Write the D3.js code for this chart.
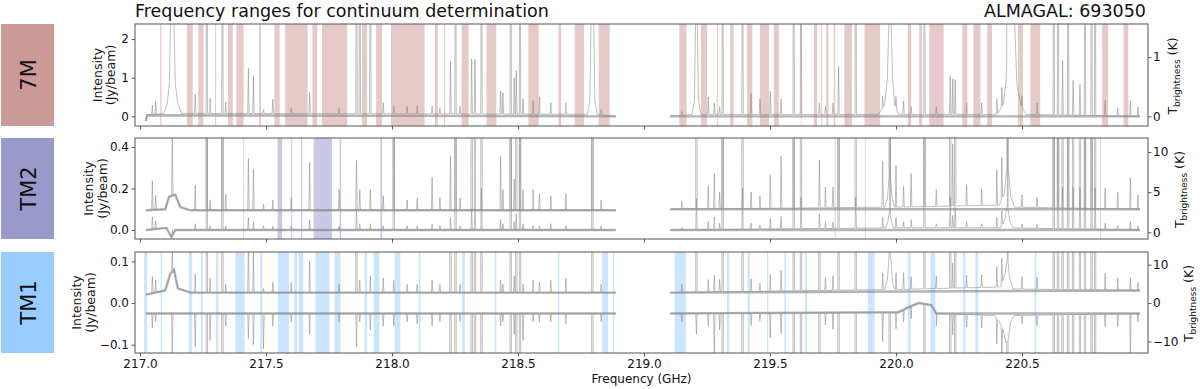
<!DOCTYPE html>
<html>
<head>
<meta charset="utf-8">
<script src="https://cdn.jsdelivr.net/npm/d3@7"></script>
<style>
body { margin: 0; background: #fff; }
text { font-family: "DejaVu Sans", sans-serif; }
</style>
</head>
<body>
<svg id="chart" width="1200" height="389"></svg>
<script>
// spectral windows (GHz) covered by the data
var segments = [[217.023, 218.888], [219.104, 220.968]];

// line centres (GHz), shared by all spectra
var lineFreq = [
  217.049, 217.062, 217.128, 217.219, 217.265, 217.278, 217.327, 217.340, 217.430, 217.450,
  217.490, 217.527, 217.600, 217.673, 217.790, 217.859, 217.872, 217.914, 217.965, 218.007,
  218.060, 218.100, 218.159, 218.190, 218.232, 218.252, 218.270, 218.316, 218.329, 218.355,
  218.431, 218.440, 218.471, 218.485, 218.493, 218.508, 218.520, 218.560, 218.585, 218.630,
  218.690, 218.795, 218.830,
  219.150, 219.208, 219.255, 219.279, 219.300, 219.312, 219.391, 219.425, 219.460, 219.501,
  219.544, 219.594, 219.623, 219.696, 219.720, 219.750, 219.772, 219.840, 219.947, 219.975,
  220.000, 220.030, 220.060, 220.113, 220.160, 220.215, 220.225, 220.235, 220.280, 220.340,
  220.400, 220.420, 220.442, 220.500, 220.560, 220.626, 220.643, 220.661, 220.683, 220.703,
  220.730, 220.750, 220.776, 220.790, 220.830, 220.880, 220.930, 220.960
];

// line heights above the local baseline (Jy/beam), 9 = off the plot
var peak7M = [
  0.24, 0.33, 9, 0.49, 9, 0.39, 9, 0.30, 1.17, 0.98,
  0.10, 0.37, 0.15, 0.55, 0.15, 9, 9, 9, 0.29, 0.20,
  0.20, 0.22, 0.20, 0.15, 1.37, 9, 0.20, 1.43, 1.42, 9,
  0.60, 0.55, 9, 0.94, 1.13, 9, 0.40, 0.35, 0.45, 0.30,
  0.30, 9, 0.15,
  0.10, 9, 0.45, 0.30, 0.20, 9, 9, 0.55, 0.40, 0.60,
  0.40, 9, 9, 0.30, 0.20, 0.30, 1.24, 9, 0.30, 9,
  0.30, 0.35, 0.20, 9, 0.20, 1.00, 0.92, 0.90, 0.30, 0.30,
  0.40, 0.50, 9, 0.30, 0.30, 9, 9, 1.40, 9, 0.90,
  0.80, 9, 9, 9, 0.40, 0.20, 0.40, 0.25
];
var peakTM2a = [
  0.14, 0.07, 0.29, 0.12, 9, 0.05, 9, 0.08, 0.25, 0.20,
  0.03, 0.05, 0.06, 0.23, 0.10, 0.24, 0.10, 0.10, 0.07, 9,
  0.05, 0.06, 0.16, 0.06, 0.26, 9, 0.06, 9, 9, 9,
  0.26, 0.10, 9, 0.15, 9, 9, 0.10, 0.10, 0.08, 0.07,
  0.08, 9, 0.05,
  0.04, 9, 0.11, 0.17, 0.08, 9, 9, 0.08, 0.06, 0.16,
  0.25, 9, 9, 0.23, 0.10, 0.10, 9, 9, 0.22, 9,
  0.20, 0.10, 0.16, 9, 0.08, 9, 0.30, 9, 0.10, 0.08,
  0.17, 0.20, 9, 0.06, 0.05, 9, 9, 9, 9, 9,
  9, 9, 9, 9, 0.10, 0.08, 0.15, 0.07
];
var peakTM2b = [
  0.06, 0.04, 0.03, 0.03, 9, 0.02, 9, 0.02, 0.06, 0.04,
  0.02, 0.02, 0.02, 0.05, 0.02, 0.10, 0.03, 0.03, 0.02, 9,
  0.02, 0.02, 0.03, 0.02, 0.06, 9, 0.02, 0.10, 0.10, 0.20,
  0.05, 0.03, 9, 0.04, 0.08, 9, 0.03, 0.02, 0.02, 0.03,
  0.02, 9, 0.02,
  0.01, 0.15, 0.04, 0.06, 0.03, 9, 0.20, 0.03, 0.02, 0.05,
  0.06, 9, 0.15, 0.07, 0.03, 0.03, 9, 0.15, 0.05, 9,
  0.05, 0.03, 0.04, 9, 0.02, 0.15, 0.06, 0.10, 0.03, 0.02,
  0.05, 0.07, 9, 0.02, 0.02, 9, 9, 0.20, 9, 0.20,
  0.20, 9, 9, 0.20, 0.03, 0.02, 0.04, 0.02
];
var peakTM1a = [
  0.04, 0.03, 0.05, 0.045, 9, 0.035, 9, 0.02, 0.12, 0.10,
  0.01, 0.025, 0.025, 0.075, 0.02, 9, 0.03, 0.04, 0.035, 0.03,
  0.02, 0.02, 0.03, 0.02, 9, 9, 0.02, 9, 9, 9,
  0.03, 0.02, 9, 0.04, 9, 9, 0.02, 0.03, 0.025, 0.03,
  0.035, 9, 0.02,
  0.02, 9, 0.03, 0.04, 0.03, 9, 9, 0.03, 0.02, 0.04,
  0.05, 9, 9, 9, 0.03, 0.035, 9, 9, 0.04, 9,
  0.04, 0.04, 0.03, 9, 0.03, 9, 0.06, 9, 0.03, 0.03,
  0.05, 0.06, 9, 0.03, 0.03, 9, 9, 9, 9, 9,
  9, 9, 9, 9, 0.04, 0.03, 0.03, 0.02
];
var peakTM1b = [
  -0.035, -0.02, -0.10, -0.08, -9, -0.065, -9, -0.03, -0.06, -0.075,
  -0.085, -0.03, -0.02, -0.05, -0.02, -0.08, -0.02, -0.04, -0.03, -0.03,
  -0.02, -0.025, -0.03, -0.02, -9, -9, -0.02, -9, -9, -9,
  -0.03, -0.02, -9, -0.05, -9, -9, -0.065, -0.02, -0.02, -0.02,
  -0.025, -9, -0.02,
  -0.02, -0.05, -0.03, -0.10, -0.04, -9, -9, -0.03, -0.02, -0.06,
  -0.05, -9, -9, -9, -0.03, -0.04, -9, -9, -0.07, -9,
  -0.04, -0.03, -0.03, -9, -0.03, -9, -0.05, -9, -0.03, -0.03,
  -0.06, -0.07, -9, -0.02, -0.025, -9, -9, -9, -9, -9,
  -9, -9, -9, -9, -0.03, -0.03, -0.10, -0.02
];

// slowly varying baseline levels [GHz, Jy/beam]
var base7M = [[217.023, -0.12], [217.028, 0.03], [218.888, 0.0], [219.104, 0.0], [220.968, 0.0]];
var baseTM2a = [[217.023, 0.095], [217.10, 0.10], [217.115, 0.16], [217.14, 0.17], [217.16, 0.11],
  [217.2, 0.095], [218.888, 0.095], [219.104, 0.10], [220.968, 0.10]];
var baseTM2b = [[217.023, 0.0], [217.105, 0.01], [217.125, -0.035], [217.14, 0.0], [218.888, 0.0],
  [219.104, 0.0], [220.968, 0.0]];
var baseTM1a = [[217.023, 0.02], [217.10, 0.03], [217.12, 0.07], [217.135, 0.08], [217.15, 0.035],
  [217.2, 0.025], [218.888, 0.025], [219.104, 0.025], [220.968, 0.03]];
var baseTM1b = [[217.023, -0.025], [218.888, -0.025], [219.104, -0.025], [220.01, -0.022],
  [220.05, -0.01], [220.09, 0.0], [220.14, -0.005], [220.16, -0.025], [220.968, -0.025]];

// wings of the broad lines, above the baseline [GHz, Jy/beam]
var wing7M = [
  [217.095, 0.05], [217.108, 0.3], [217.116, 0.8], [217.122, 2.6], [217.134, 2.6], [217.14, 0.8],
  [217.15, 0.3], [217.165, 0.05],
  [218.775, 0.05], [218.785, 0.4], [218.79, 2.6], [218.80, 2.6], [218.805, 0.4], [218.815, 0.05],
  [219.19, 0.05], [219.2, 0.4], [219.205, 2.6], [219.211, 2.6], [219.216, 0.4], [219.226, 0.05],
  [219.93, 0.05], [219.955, 0.3], [219.966, 1.0], [219.972, 2.6], [219.98, 2.6], [219.986, 1.0],
  [219.995, 0.3], [220.01, 0.05],
  [220.40, 0.05], [220.425, 0.3], [220.437, 0.9], [220.445, 2.6], [220.47, 2.6], [220.48, 0.8],
  [220.495, 0.3], [220.515, 0.05]
];
var wingTM2a = [
  [219.955, 0.01], [219.966, 0.05], [219.972, 0.15], [219.978, 0.15], [219.985, 0.05], [219.995, 0.01],
  [220.41, 0.02], [220.43, 0.08], [220.44, 0.2], [220.445, 0.2], [220.455, 0.06], [220.47, 0.01]
];
var wingTM2b = [
  [219.96, 0.01], [219.968, 0.04], [219.975, 0.10], [219.982, 0.04], [219.99, 0.01],
  [220.415, 0.01], [220.432, 0.05], [220.442, 0.12], [220.452, 0.04], [220.465, 0.01]
];
var wingTM1a = [
  [219.955, 0.005], [219.966, 0.03], [219.972, 0.08], [219.98, 0.08], [219.986, 0.02], [219.995, 0.005],
  [220.415, 0.01], [220.432, 0.04], [220.442, 0.08], [220.452, 0.03], [220.465, 0.005]
];
var wingTM1b = [
  [220.39, -0.005], [220.41, -0.02], [220.425, -0.04], [220.436, -0.07], [220.446, -0.06],
  [220.455, -0.02], [220.47, -0.005]
];

// frequency ranges used for the continuum [start, end] (GHz)
var cont7M = [
  [217.080, 217.085], [217.186, 217.209], [217.231, 217.252], [217.298, 217.302], [217.349, 217.368],
  [217.382, 217.411], [217.473, 217.480], [217.533, 217.554], [217.576, 217.665], [217.684, 217.703],
  [217.722, 217.822], [217.881, 217.901], [217.937, 217.960], [217.996, 218.129], [218.170, 218.182],
  [218.206, 218.211], [218.276, 218.304], [218.375, 218.414], [218.541, 218.582], [218.661, 218.671],
  [218.725, 218.762], [218.820, 218.864],
  [219.140, 219.169], [219.226, 219.250], [219.289, 219.293], [219.342, 219.355], [219.409, 219.430],
  [219.460, 219.496], [219.515, 219.535], [219.622, 219.625], [219.674, 219.687], [219.703, 219.707],
  [219.723, 219.732], [219.753, 219.759], [219.795, 219.825], [219.875, 219.937], [220.047, 220.060],
  [220.092, 220.104], [220.132, 220.189], [220.263, 220.283], [220.307, 220.335], [220.362, 220.381],
  [220.484, 220.504], [220.533, 220.572], [220.818, 220.842], [220.903, 220.922]
];
var contTM2 = [
  [217.410, 217.412], [217.546, 217.564], [217.600, 217.604], [217.639, 217.644], [217.689, 217.762],
  [217.792, 217.798], [217.954, 217.961], [219.757, 219.760], [219.876, 219.879], [220.810, 220.813]
];
var contTM1 = [
  [217.016, 217.028], [217.082, 217.087], [217.194, 217.207], [217.241, 217.249], [217.302, 217.311],
  [217.378, 217.415], [217.477, 217.485], [217.547, 217.591], [217.612, 217.623], [217.629, 217.647],
  [217.696, 217.752], [217.772, 217.795], [217.891, 217.901], [217.927, 217.950], [218.011, 218.033],
  [218.106, 218.113], [218.278, 218.289], [218.408, 218.414], [218.659, 218.664], [218.834, 218.857],
  [218.877, 218.882], [219.122, 219.166], [219.329, 219.338], [219.411, 219.420], [219.488, 219.493],
  [219.557, 219.563], [219.639, 219.647], [219.888, 219.915], [220.047, 220.058], [220.137, 220.156],
  [220.266, 220.275], [220.315, 220.326], [220.550, 220.557]
];

var freqTicks = [217.0, 217.5, 218.0, 218.5, 219.0, 219.5, 220.0, 220.5];

var panels = [
  {name: "7M", box: "#cc9999", shade: "#e6c9c9", top: 24, bottom: 126,
   yDom: [-0.25, 2.39], yTicks: [0, 1, 2], yFmt: d3.format("d"),
   tDom: [-0.164, 1.56], tTicks: [0, 1], ylx: 101.5, tlx: 1177,
   cont: cont7M, traces: [[base7M, peak7M, wing7M]]},
  {name: "TM2", box: "#9999cc", shade: "#c9c9e5", top: 138, bottom: 239,
   yDom: [-0.0435, 0.4435], yTicks: [0, 0.2, 0.4], yFmt: d3.format(".1f"),
   tDom: [-0.84, 11.75], tTicks: [0, 5, 10], ylx: 93, tlx: 1184,
   cont: contTM2, traces: [[baseTM2a, peakTM2a, wingTM2a], [baseTM2b, peakTM2b, wingTM2b]]},
  {name: "TM1", box: "#99ccff", shade: "#cce5ff", top: 252, bottom: 353,
   yDom: [-0.12, 0.1225], yTicks: [-0.1, 0, 0.1], yFmt: d3.format(".1f"),
   tDom: [-13.0, 13.3], tTicks: [-10, 0, 10], ylx: 81, tlx: 1193,
   cont: contTM1, traces: [[baseTM1a, peakTM1a, wingTM1a], [baseTM1b, peakTM1b, wingTM1b]]}
];

var left = 135, right = 1148;
var halfWidth = 0.0028;   // half base of a line spike, GHz

var svg = d3.select("#chart");

var x = d3.scaleLinear().domain([216.98, 221.0]).range([left, right]);

function styleAxis(g) {
  g.select(".domain").remove();
  g.selectAll(".tick line").attr("stroke", "#333").attr("stroke-width", 0.8);
  g.selectAll(".tick text").attr("font-size", 12).attr("fill", "#111")
    .attr("font-family", "DejaVu Sans, sans-serif");
}

function inSeg(seg) {
  return function(k) { return k[0] >= seg[0] && k[0] <= seg[1]; };
}

// build the points of one spectrum inside one spectral window
function tracePoints(knots, peaks, wings, seg) {
  var base = d3.scaleLinear()
    .domain(knots.map(function(k) { return k[0]; }))
    .range(knots.map(function(k) { return k[1]; }))
    .clamp(true);
  var profile = knots.map(function(k) { return [k[0], k[1]]; })
    .concat(wings.map(function(w) { return [w[0], base(w[0]) + w[1]]; }))
    .sort(function(a, b) { return a[0] - b[0]; });
  var level = d3.scaleLinear()
    .domain(profile.map(function(k) { return k[0]; }))
    .range(profile.map(function(k) { return k[1]; }))
    .clamp(true);
  var pts = profile.filter(inSeg(seg));
  lineFreq.forEach(function(f, i) {
    if (f < seg[0] || f > seg[1]) return;
    pts.push([f - halfWidth, level(f - halfWidth)]);
    pts.push([f, level(f) + peaks[i]]);
    pts.push([f + halfWidth, level(f + halfWidth)]);
  });
  pts.sort(function(a, b) { return a[0] - b[0]; });
  return pts;
}

panels.forEach(function(p, pi) {
  var y = d3.scaleLinear().domain(p.yDom).range([p.bottom, p.top]);
  var t = d3.scaleLinear().domain(p.tDom).range([p.bottom, p.top]);
  var mid = (p.top + p.bottom) / 2;

  // coloured array label on the left
  svg.append("rect")
    .attr("x", 1).attr("y", p.top).attr("width", 53).attr("height", p.bottom - p.top)
    .attr("fill", p.box);
  svg.append("text")
    .attr("transform", "translate(36," + mid + ") rotate(-90)")
    .attr("text-anchor", "middle")
    .attr("font-size", 21).attr("fill", "#111")
    .text(p.name);

  var clipId = "clip" + pi;
  svg.append("clipPath").attr("id", clipId)
    .append("rect")
    .attr("x", left).attr("y", p.top).attr("width", right - left).attr("height", p.bottom - p.top);

  var plot = svg.append("g").attr("clip-path", "url(#" + clipId + ")");

  // continuum ranges
  plot.selectAll("rect.cont").data(p.cont).enter().append("rect")
    .attr("class", "cont")
    .attr("x", function(d) { return x(d[0]); })
    .attr("width", function(d) { return Math.max(0.8, x(d[1]) - x(d[0])); })
    .attr("y", p.top).attr("height", p.bottom - p.top)
    .attr("fill", p.shade);

  var line = d3.line()
    .x(function(d) { return x(d[0]); })
    .y(function(d) { return y(d[1]); });

  p.traces.forEach(function(tr) {
    segments.forEach(function(seg) {
      // noise band along the baseline
      plot.append("path")
        .attr("d", line(tr[0].filter(inSeg(seg))))
        .attr("fill", "none")
        .attr("stroke", "#8c8c8c")
        .attr("stroke-width", 2.4)
        .attr("stroke-opacity", 0.65);
      plot.append("path")
        .attr("d", line(tracePoints(tr[0], tr[1], tr[2], seg)))
        .attr("fill", "none")
        .attr("stroke", "#8a8a8a")
        .attr("stroke-width", 0.8)
        .attr("stroke-opacity", 0.7);
    });
  });

  // frame
  svg.append("rect")
    .attr("x", left).attr("y", p.top).attr("width", right - left).attr("height", p.bottom - p.top)
    .attr("fill", "none").attr("stroke", "#555").attr("stroke-width", 1);

  // axes
  svg.append("g")
    .attr("transform", "translate(" + left + ",0)")
    .call(d3.axisLeft(y).tickValues(p.yTicks).tickFormat(function(v) {
      return p.yFmt(v).replace("-", "\u2212");
    }).tickSize(3.5).tickPadding(2.5))
    .call(styleAxis);

  svg.append("g")
    .attr("transform", "translate(" + right + ",0)")
    .call(d3.axisRight(t).tickValues(p.tTicks).tickFormat(function(v) {
      return String(v).replace("-", "\u2212");
    }).tickSize(3.5).tickPadding(1.5))
    .call(styleAxis);

  var isLast = pi === panels.length - 1;
  svg.append("g")
    .attr("transform", "translate(0," + p.bottom + ")")
    .call(d3.axisBottom(x).tickValues(freqTicks)
      .tickFormat(isLast ? d3.format(".1f") : function() { return ""; })
      .tickSize(3.5).tickPadding(3))
    .call(styleAxis);

  // y labels
  var yl = svg.append("text")
    .attr("transform", "translate(" + p.ylx + "," + mid + ") rotate(-90)")
    .attr("text-anchor", "middle").attr("font-size", 12.5).attr("fill", "#111");
  yl.append("tspan").attr("x", 0).attr("dy", 0).text("Intensity");
  yl.append("tspan").attr("x", 0).attr("dy", 13.5).text("(Jy/beam)");

  var tl = svg.append("text")
    .attr("transform", "translate(" + p.tlx + "," + (mid + 1) + ") rotate(-90)")
    .attr("text-anchor", "middle").attr("font-size", 12.5).attr("fill", "#111");
  tl.append("tspan").text("T");
  tl.append("tspan").attr("font-size", 9).attr("dy", 3).text("brightness");
  tl.append("tspan").attr("dy", -3).text(" (K)");
});

svg.append("text")
  .attr("x", (left + right) / 2).attr("y", 383)
  .attr("text-anchor", "middle").attr("font-size", 12).attr("fill", "#111")
  .text("Frequency (GHz)");

svg.append("text")
  .attr("x", left).attr("y", 17)
  .attr("font-size", 17.5).attr("fill", "#111")
  .text("Frequency ranges for continuum determination");

svg.append("text")
  .attr("x", right - 2).attr("y", 17)
  .attr("text-anchor", "end")
  .attr("font-size", 17.5).attr("fill", "#111")
  .text("ALMAGAL: 693050");
</script>
</body>
</html>
